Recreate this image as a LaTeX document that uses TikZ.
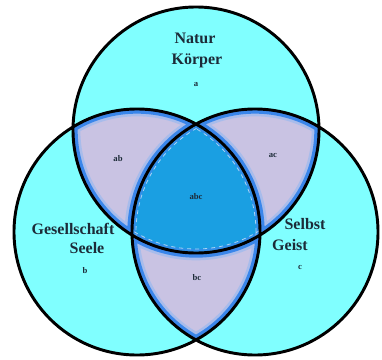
\documentclass[tikz,border=0pt]{standalone}
\usepackage{fontspec}
\setmainfont{Liberation Serif}
\definecolor{cyanfill}{HTML}{80FFFF}
\definecolor{pairfill}{HTML}{C9C3E3}
\definecolor{corefill}{HTML}{1A9FE2}
\definecolor{edgeblue}{HTML}{3A86EA}
\definecolor{inkcol}{HTML}{1C2B38}

\begin{document}
\begin{tikzpicture}[
    x=0.75pt, y=-0.75pt,
    big/.style={font=\bfseries\fontsize{12}{14}\selectfont, text=inkcol, inner sep=0pt},
    small/.style={font=\bfseries\fontsize{6.5}{7}\selectfont, text=inkcol, inner sep=0pt},
    rim/.style={black, line width=2.2pt},
    band/.style={edgeblue, line width=7pt},
    haze/.style={edgeblue!60!white, opacity=0.5, line width=11pt},
]
\def\r{92.25pt}
\useasboundingbox (0,0) rectangle (382,360);
\coordinate (ca) at (196,130);
\coordinate (cb) at (137,232);
\coordinate (cc) at (255,232);

% the three sets
\fill[cyanfill] (ca) circle[radius=\r] (cb) circle[radius=\r] (cc) circle[radius=\r];

% pairwise overlaps
\begin{scope}
    \clip (ca) circle[radius=\r];
    \clip (cb) circle[radius=\r];
    \fill[pairfill] (ca) circle[radius=\r];
    \draw[haze] (ca) circle[radius=\r] (cb) circle[radius=\r] (cc) circle[radius=\r];
    \draw[band] (ca) circle[radius=\r] (cb) circle[radius=\r] (cc) circle[radius=\r];
\end{scope}
\begin{scope}
    \clip (ca) circle[radius=\r];
    \clip (cc) circle[radius=\r];
    \fill[pairfill] (ca) circle[radius=\r];
    \draw[haze] (ca) circle[radius=\r] (cb) circle[radius=\r] (cc) circle[radius=\r];
    \draw[band] (ca) circle[radius=\r] (cb) circle[radius=\r] (cc) circle[radius=\r];
\end{scope}
\begin{scope}
    \clip (cb) circle[radius=\r];
    \clip (cc) circle[radius=\r];
    \fill[pairfill] (cb) circle[radius=\r];
    \draw[haze] (ca) circle[radius=\r] (cb) circle[radius=\r] (cc) circle[radius=\r];
    \draw[band] (ca) circle[radius=\r] (cb) circle[radius=\r] (cc) circle[radius=\r];
\end{scope}

% the core
\begin{scope}
    \clip (ca) circle[radius=\r];
    \clip (cb) circle[radius=\r];
    \clip (cc) circle[radius=\r];
    \fill[corefill] (ca) circle[radius=\r];
    \draw[edgeblue!70!corefill, line width=6pt] (ca) circle[radius=\r] (cb) circle[radius=\r] (cc) circle[radius=\r];
    \draw[white, opacity=0.6, line width=0.6pt, dashed] (ca) circle[radius=\r-3pt] (cb) circle[radius=\r-3pt] (cc) circle[radius=\r-3pt];
\end{scope}

\draw[rim] (ca) circle[radius=\r] (cb) circle[radius=\r] (cc) circle[radius=\r];

% labels
\node[big] (natur) at (195,38) {Natur};
\node[big] (koerper) at (197,61) {Körper};
\node[small] (la) at (196,85) {a};
\node[big] (gesell) at (73,229) {Gesellschaft};
\node[big] (seele) at (87,248) {Seele};
\node[small] (lb) at (85,271) {b};
\node[big] (selbst) at (305,224) {Selbst};
\node[big] (geist) at (290,245) {Geist};
\node[small] (lc) at (300,267) {c};
\node[small] (lab) at (118,159) {ab};
\node[small] (lac) at (273,156) {ac};
\node[small] (lbc) at (197,278) {bc};
\node[small] (labc) at (196,197) {abc};
\end{tikzpicture}
\end{document}
